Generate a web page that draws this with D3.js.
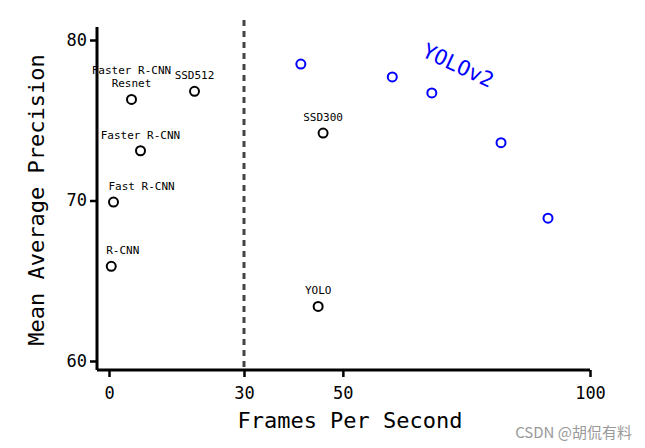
<!DOCTYPE html><html><head><meta charset="utf-8">
<script src="https://cdn.jsdelivr.net/npm/d3@7"></script>
<style>body{margin:0;background:#fff}</style></head><body><svg width="645" height="448"></svg>
<script>
const blackNames=["R-CNN","Fast R-CNN","Faster R-CNN","Faster R-CNN\nResnet","SSD512","SSD300","YOLO"];
const blackFps=[0.5,1,7,5,19,46,45];
const blackMap=[65.9,69.9,73.1,76.3,76.8,74.2,63.4];
const blueFps=[41.5,60,68,82,91.5];
const blueMap=[78.5,77.7,76.7,73.6,68.9];
const xTicks=[0,30,50,100];
const yTicks=[60,70,80];
const font="DejaVu Sans Mono";
const svg=d3.select("svg");
const x=d3.scaleLinear().domain([0,30,100]).range([109,244,590]);
const y=d3.scaleLinear().domain([60,80]).range([361,40]);
const ax=svg.append("g").attr("transform","translate(0,370)").call(d3.axisBottom(x).tickValues(xTicks).tickSize(7).tickFormat(d3.format("d")));
ax.select(".domain").attr("d","M97,0H590").attr("stroke-width",3);
const ay=svg.append("g").attr("transform","translate(97,0)").call(d3.axisLeft(y).tickValues(yTicks).tickSize(7));
ay.select(".domain").attr("d","M0,27V370").attr("stroke-width",3);
svg.selectAll(".tick line").attr("stroke-width",2.5);
svg.selectAll(".tick text").attr("font-family",font).attr("font-size",17).attr("fill","#000");
ax.selectAll(".tick text").attr("dy","1.1em");
svg.append("line").attr("x1",x(30)).attr("x2",x(30)).attr("y1",20).attr("y2",370)
 .attr("stroke","#444").attr("stroke-width",3).attr("stroke-dasharray","6,5");
svg.selectAll("circle.b").data(blackFps).enter().append("circle").attr("class","b").attr("cx",(d)=>x(d)).attr("cy",(d,i)=>y(blackMap[i]))
 .attr("r",4.5).attr("fill","none").attr("stroke","#000").attr("stroke-width",2);
svg.selectAll("circle.u").data(blueFps).enter().append("circle").attr("class","u").attr("cx",(d)=>x(d)).attr("cy",(d,i)=>y(blueMap[i]))
 .attr("r",4.5).attr("fill","none").attr("stroke","#00f").attr("stroke-width",2);
blackNames.forEach((n,i)=>{
  const lines=n.split("\n");
  lines.forEach((l,j)=>{
    svg.append("text").attr("x",x(blackFps[i])+(i<2?-5:0)).attr("y",y(blackMap[i])-12-(lines.length-1-j)*13)
     .attr("text-anchor",i<2?"start":"middle").attr("font-family",font).attr("font-size",11).text(l);
  });
});
svg.append("text").attr("transform","translate(455,72) rotate(25)").attr("text-anchor","middle")
 .attr("font-family",font).attr("font-size",21).attr("fill","#00f").text("YOLOv2");
svg.append("text").attr("x",350).attr("y",428).attr("text-anchor","middle").attr("font-family",font).attr("font-size",22).text("Frames Per Second");
svg.append("text").attr("transform","translate(44,200) rotate(-90)").attr("text-anchor","middle").attr("font-family",font).attr("font-size",22).text("Mean Average Precision");
svg.append("text").attr("x",632).attr("y",438).attr("text-anchor","end").attr("font-family","Noto Sans CJK SC").attr("font-size",15).attr("fill","#999").text("CSDN @胡侃有料");
</script></body></html>
